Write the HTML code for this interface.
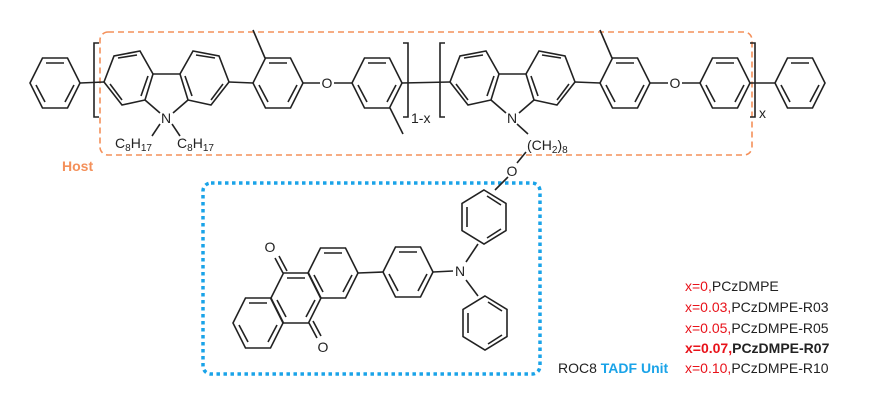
<!DOCTYPE html>
<html><head><meta charset="utf-8"><style>
html,body{margin:0;padding:0;background:#fff;}
svg{display:block;}
text{font-family:"Liberation Sans",Arial,sans-serif;}
</style></head><body>
<svg width="873" height="402" viewBox="0 0 873 402" xmlns="http://www.w3.org/2000/svg">
<defs>
<g id="hf" fill="none" stroke="#222" stroke-width="1.6">
<polygon points="-25,0 -12.5,-25 12.5,-25 25,0 12.5,25 -12.5,25"/>
<line x1="-9" y1="-20" x2="9" y2="-20"/><line x1="19" y1="2" x2="10" y2="19"/><line x1="-19" y1="2" x2="-10" y2="19"/>
</g>
<g id="hp" fill="none" stroke="#222" stroke-width="1.6">
<polygon points="0,-27 22,-13.5 22,13.5 0,27 -22,13.5 -22,-13.5"/>
<line x1="-17" y1="-10" x2="-17" y2="10"/><line x1="3" y1="-21" x2="17" y2="-12"/><line x1="3" y1="21" x2="17" y2="12"/>
</g>
</defs>
<rect x="100" y="32" width="652" height="123" rx="8" fill="none" stroke="#f4905a" stroke-width="1.6" stroke-dasharray="6,4"/>
<rect x="203" y="183" width="337" height="191" rx="8" fill="none" stroke="#1aa3e8" stroke-width="3.5" stroke-dasharray="3.5,3.5"/>
<text x="62" y="171" font-size="14" font-weight="bold" fill="#f4905a">Host</text>

<g fill="none" stroke="#222" stroke-width="1.6">
<use href="#hf" x="55" y="83"/>
<line x1="80" y1="83" x2="104" y2="82"/>
<polyline points="99,43 94,43 94,117 99,117"/>
<polyline points="403,43 408,43 408,117 403,117"/>
<polyline points="445,43 440,43 440,117 445,117"/>
<polyline points="750,43 755,43 755,117 750,117"/>
</g>

<g id="cz" fill="none" stroke="#222" stroke-width="1.6">
<polygon points="104,82 114,56 140,51 153,74 145,100 122,105"/>
<polygon points="229,82 219,56 193,51 180,74 188,100 211,105"/>
<line x1="153" y1="74" x2="180" y2="74"/>
<line x1="145" y1="100" x2="160" y2="113"/><line x1="188" y1="100" x2="173" y2="113"/>
<line x1="118" y1="58" x2="137" y2="55"/><line x1="110" y1="84" x2="122" y2="100"/><line x1="148" y1="76" x2="141" y2="96"/>
<line x1="215" y1="58" x2="196" y2="55"/><line x1="223" y1="84" x2="211" y2="100"/><line x1="185" y1="76" x2="192" y2="96"/>
</g>
<text x="166" y="123" font-size="14" text-anchor="middle" fill="#222">N</text>
<use href="#cz" x="346" y="0"/>
<text x="512" y="123" font-size="14" text-anchor="middle" fill="#222">N</text>

<g fill="none" stroke="#222" stroke-width="1.6">
<line x1="229" y1="82" x2="253" y2="83"/>
<use href="#hf" x="278" y="83"/>
<line x1="265" y1="58" x2="253" y2="30"/>
<line x1="303" y1="83" x2="320" y2="83"/><line x1="334" y1="83" x2="352" y2="83"/>
<use href="#hf" x="377" y="83"/>
<line x1="390" y1="108" x2="403" y2="134"/>
<line x1="402" y1="83" x2="450" y2="82"/>
<line x1="575" y1="82" x2="600" y2="83"/>
<use href="#hf" x="625" y="83"/>
<line x1="612" y1="58" x2="600" y2="30"/>
<line x1="650" y1="83" x2="668" y2="83"/><line x1="682" y1="83" x2="700" y2="83"/>
<use href="#hf" x="725" y="83"/>
<line x1="750" y1="83" x2="775" y2="83"/>
<use href="#hf" x="800" y="83"/>
<line x1="160" y1="124" x2="152" y2="136"/><line x1="172" y1="124" x2="180" y2="136"/>
<line x1="517" y1="124" x2="528" y2="134"/>
<line x1="526" y1="152" x2="517" y2="163"/>
<line x1="508" y1="177" x2="495" y2="190"/>
</g>
<g fill="#222" font-size="14">
<text x="327" y="88" text-anchor="middle">O</text>
<text x="675" y="88" text-anchor="middle">O</text>
<text x="411" y="123">1-x</text>
<text x="759" y="118">x</text>
<text x="115" y="148">C<tspan font-size="10" dy="3">8</tspan><tspan dy="-3">H</tspan><tspan font-size="10" dy="3">17</tspan></text>
<text x="177" y="148">C<tspan font-size="10" dy="3">8</tspan><tspan dy="-3">H</tspan><tspan font-size="10" dy="3">17</tspan></text>
<text x="527" y="150">(CH<tspan font-size="10" dy="3">2</tspan><tspan dy="-3">)</tspan><tspan font-size="10" dy="3">8</tspan></text>
<text x="512" y="176" text-anchor="middle">O</text>
</g>

<g fill="none" stroke="#222" stroke-width="1.6">
<use href="#hp" x="484" y="217"/>
<line x1="478" y1="244" x2="466" y2="262"/>
<line x1="453" y1="271" x2="433" y2="272"/>
<use href="#hf" x="408" y="272"/>
<line x1="383" y1="272" x2="358" y2="273"/>
<use href="#hf" x="333" y="273"/>
<use href="#hf" x="296" y="298"/>
<use href="#hf" x="258" y="323"/>
<line x1="466" y1="280" x2="478" y2="296"/>
<use href="#hp" x="485" y="323"/>
<line x1="283" y1="273" x2="275" y2="258"/><line x1="287" y1="271" x2="279" y2="256"/>
<line x1="309" y1="323" x2="317" y2="338"/><line x1="313" y1="321" x2="321" y2="336"/>
</g>
<g fill="#222" font-size="14">
<text x="460" y="276" text-anchor="middle">N</text>
<text x="270" y="252" text-anchor="middle">O</text>
<text x="323" y="352" text-anchor="middle">O</text>
</g>

<g font-size="14" fill="#222">
<text x="558" y="373">ROC8 <tspan fill="#1aa3e8" font-weight="bold">TADF Unit</tspan></text>
<text x="685" y="291"><tspan fill="#e8121a">x=0,</tspan>PCzDMPE</text>
<text x="685" y="312"><tspan fill="#e8121a">x=0.03,</tspan>PCzDMPE-R03</text>
<text x="685" y="333"><tspan fill="#e8121a">x=0.05,</tspan>PCzDMPE-R05</text>
<text x="685" y="353" font-weight="bold"><tspan fill="#e8121a">x=0.07,</tspan>PCzDMPE-R07</text>
<text x="685" y="373"><tspan fill="#e8121a">x=0.10,</tspan>PCzDMPE-R10</text>
</g>
</svg>
</body></html>
